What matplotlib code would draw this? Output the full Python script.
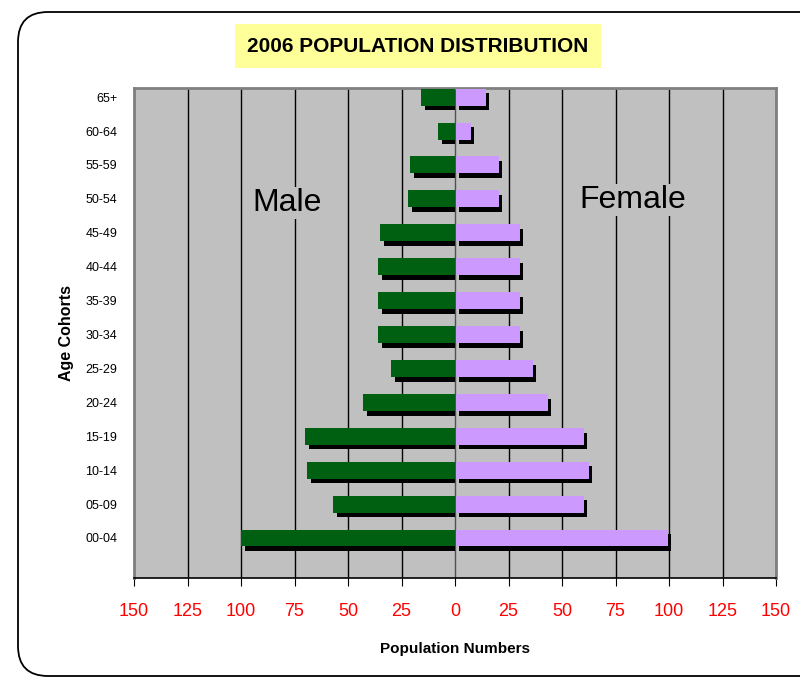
import matplotlib.pyplot as plt
import numpy as np
from matplotlib.patches import FancyBboxPatch
from matplotlib.transforms import IdentityTransform

plt.rcParams['font.family'] = ['Liberation Sans', 'DejaVu Sans']

cohorts = ['00-04', '05-09', '10-14', '15-19', '20-24', '25-29', '30-34',
           '35-39', '40-44', '45-49', '50-54', '55-59', '60-64', '65+']
male = [100, 57, 69, 70, 43, 30, 36, 36, 36, 35, 22, 21, 8, 16]
female = [99, 60, 62, 60, 43, 36, 30, 30, 30, 30, 20, 20, 7, 14]
xticks = [-150, -125, -100, -75, -50, -25, 0, 25, 50, 75, 100, 125, 150]
xticklabels = [str(abs(t)) for t in xticks]

fig = plt.figure(figsize=(8, 6.77), dpi=100)

# rounded outer frame (pixel coords)
frame = FancyBboxPatch((18, 1), 900, 664, boxstyle="round,pad=0,rounding_size=30",
                       transform=IdentityTransform(), facecolor='none',
                       edgecolor='black', linewidth=1.3, zorder=0)
fig.patches.append(frame)

ax = fig.add_axes([134/800, 1 - 578/677, 642/800, 490/677])
ax.set_facecolor('#C0C0C0')

y = np.arange(len(cohorts))
male = np.array(male)
female = np.array(female)
h = 0.5
dx = 1.9
dy = 0.14

# shadows
ax.barh(y - dy, -(male - dx), height=h, color='black', zorder=2)
ax.barh(y - dy, female, left=dx, height=h, color='black', zorder=2)
# main bars
ax.barh(y, -male, height=h, color='#006011', zorder=3)
ax.barh(y, female, left=0.5, height=h, color='#CC99FF', zorder=3)

ax.set_xlim(-150, 150)
ax.set_ylim(-1.18, 13.27)
ax.set_xticks(xticks)
ax.set_xticklabels(xticklabels, color='red', fontsize=13)
ax.set_yticks(y)
ax.set_yticklabels(cohorts, fontsize=9)
ax.tick_params(axis='y', length=0, pad=12)
ax.tick_params(axis='x', length=6, direction='out', pad=12)

for t in xticks:
    ax.axvline(t, color='black' if t != 0 else '#505050', linewidth=1, zorder=1)

for side in ['top', 'right', 'left']:
    ax.spines[side].set_color('#808080')
    ax.spines[side].set_linewidth(2)
ax.spines['bottom'].set_color('black')
ax.spines['bottom'].set_linewidth(1.2)

ax.set_xlabel('Population Numbers', fontsize=11, fontweight='bold', labelpad=16)
ax.set_ylabel('Age Cohorts', fontsize=11.5, fontweight='bold', labelpad=8)

ax.text(-78.7, 9.88, 'Male', fontsize=23, ha='center', va='center', zorder=4,
        bbox=dict(facecolor='#C0C0C0', edgecolor='none', pad=1))
ax.text(83.1, 9.97, 'Female', fontsize=23, ha='center', va='center', zorder=4,
        bbox=dict(facecolor='#C0C0C0', edgecolor='none', pad=1))

fig.text(418/800, 1 - 46/677, '2006 POPULATION DISTRIBUTION', fontsize=15,
         fontweight='bold', ha='center', va='center',
         bbox=dict(facecolor='#FFFF99', edgecolor='none', pad=9))

fig.savefig('out.png', dpi=100)
